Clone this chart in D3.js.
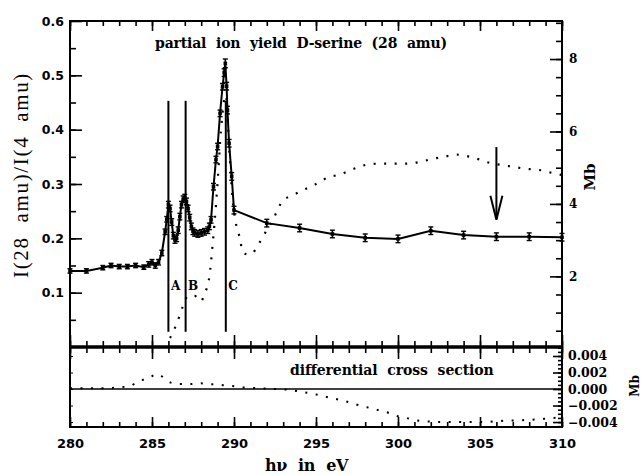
<!DOCTYPE html>
<html>
<head>
<meta charset="utf-8">
<script src="https://cdn.jsdelivr.net/npm/d3@7"></script>
<style>
html,body{margin:0;padding:0;background:#fff;}
svg{display:block;}
</style>
</head>
<body>
<svg id="chart" width="642" height="475"></svg>
<script>
// ---------- data ----------
const ionEnergy = [280.0,281.0,282.0,282.5,283.0,283.5,284.0,284.5,284.8,285.0,285.2,285.4,285.6,285.8,285.9,286.0,286.1,286.2,286.3,286.4,286.5,286.6,286.7,286.8,286.9,287.0,287.1,287.2,287.3,287.4,287.5,287.6,287.8,288.0,288.2,288.4,288.5,288.6,288.75,288.9,289.0,289.15,289.3,289.4,289.47,289.55,289.6,289.7,289.86,290.0,292.0,294.0,296.0,298.0,300.0,302.0,304.0,306.0,308.0,310.0];
const ionYield = [0.140,0.140,0.146,0.150,0.148,0.148,0.150,0.147,0.152,0.156,0.150,0.156,0.173,0.212,0.235,0.262,0.255,0.230,0.205,0.197,0.200,0.215,0.240,0.262,0.272,0.275,0.268,0.255,0.238,0.222,0.213,0.210,0.208,0.210,0.212,0.215,0.222,0.234,0.295,0.345,0.369,0.430,0.479,0.505,0.522,0.480,0.436,0.375,0.314,0.252,0.228,0.219,0.208,0.201,0.199,0.214,0.206,0.203,0.203,0.202];
const ionError = [0.004,0.004,0.004,0.004,0.004,0.004,0.004,0.004,0.005,0.005,0.005,0.005,0.005,0.005,0.005,0.006,0.006,0.006,0.006,0.006,0.006,0.006,0.006,0.006,0.006,0.006,0.006,0.006,0.006,0.006,0.006,0.006,0.006,0.006,0.006,0.006,0.006,0.006,0.006,0.006,0.006,0.006,0.006,0.007,0.008,0.007,0.007,0.007,0.007,0.007,0.007,0.007,0.007,0.007,0.007,0.007,0.007,0.007,0.007,0.007];

const theoryEnergy = [286.1,286.3,286.5,286.7,286.9,287.2,287.6,288.0,288.2,288.4,288.5,288.6,288.7,288.8,289.0,289.2,289.5,289.7,289.9,290.1,290.4,290.5,290.9,291.3,291.7,292.3,293.0,293.6,294.1,294.7,295.2,295.8,296.4,296.9,297.5,298.05,298.7,299.3,299.9,300.5,301.1,301.7,302.3,303.0,303.6,304.2,304.8,305.3,306.0,306.5,307.0,307.6,308.25,308.86,309.5,310.0];
const theoryMb = [0.3,0.47,0.7,0.93,1.2,1.46,1.46,1.31,1.53,1.76,2.0,2.4,2.9,3.4,4.6,6.0,7.0,5.6,4.2,3.5,2.96,2.68,2.6,2.73,3.05,3.5,4.1,4.24,4.36,4.48,4.6,4.75,4.8,4.89,5.0,5.08,5.11,5.11,5.11,5.11,5.14,5.2,5.26,5.32,5.36,5.32,5.25,5.17,5.1,5.06,5.03,4.98,4.95,4.92,4.84,4.8];

const diffEnergy = [280.0,281.0,282.0,283.0,283.7,284.2,284.7,285.3,285.7,286.1,286.7,287.3,287.9,288.5,289.1,289.75,290.5,291.5,292.5,293.4,294.0,294.6,295.1,295.75,296.4,297.0,297.5,298.1,298.7,299.3,299.8,300.5,301.1,301.7,302.3,303.5,304.8,305.4,306.0,307.2,308.35,308.96,309.5,310.0];
const diffValue = [0.0001,0.0001,0.0001,0.0002,0.0004,0.0010,0.0012,0.0018,0.0014,0.0008,0.0006,0.0006,0.0007,0.0006,0.0005,0.0004,0.0002,0.0001,0.0,-0.0001,-0.0003,-0.0005,-0.0007,-0.0010,-0.0013,-0.0016,-0.0019,-0.0022,-0.0025,-0.0028,-0.0032,-0.0035,-0.0038,-0.0039,-0.0040,-0.0040,-0.0040,-0.0040,-0.0039,-0.0038,-0.0037,-0.0036,-0.0035,-0.0034];

const resonanceEnergy = [286.0, 287.05, 289.5];
const resonanceLabel = ["A", "B", "C"];
const resonanceSpan = [0.028, 0.453];
const arrowEnergy = 306;
const arrowSpan = [0.368, 0.234];

const xMajorTicks = [280,285,290,295,300,305,310];
const leftTicks = [0.1,0.2,0.3,0.4,0.5,0.6];
const rightTicks = [2,4,6,8];
const diffTicks = [0.004,0.002,0.000,-0.002,-0.004];
const diffTickLabels = ["0.004","0.002","0.000","\u22120.002","\u22120.004"];

const titleText = "partial ion yield D-serine (28 amu)";
const diffTitle = "differential cross section";
const xTitle = "h\u03bd in eV";
const yLeftTitle = "I(28 amu)/I(4 amu)";
const yRightTitle = "Mb";

// ---------- layout ----------
const L = 70, R = 562, T = 21, MID = 347, B = 427;
const svg = d3.select("#chart");

const x = d3.scaleLinear().domain([280, 310]).range([L, R]);
const yL = d3.scaleLinear().domain([0, 0.6]).range([MID, T]);
const yR = d3.scaleLinear().domain([0.05, 9.05]).range([MID, T]);
const yD = d3.scaleLinear().domain([-0.0046, 0.00509]).range([B, MID]);

const minorX = d3.range(280, 310.01, 1);
const minorL = d3.range(0.05, 0.6, 0.05);
const minorR = d3.range(0.5, 9.01, 0.5);
const minorD = d3.range(-0.0045, 0.00501, 0.0005);

function styleAxis(g) {
  g.select(".domain").remove();
  g.selectAll(".tick line").attr("stroke", "#000").attr("stroke-width", 1.6);
}
// fixed word gap, then letter spacing fills the remaining width
function fitText(sel, target, wordGap) {
  const txt = sel.text();
  sel.attr("word-spacing", wordGap);
  const len = sel.node().getComputedTextLength();
  const n = txt.length;
  sel.attr("letter-spacing", (target - len) / n);
}

// top axis of upper panel (ticks down)
svg.append("g").attr("transform", `translate(0,${T})`)
  .call(d3.axisBottom(x).tickValues(minorX).tickSize(5).tickFormat("")).call(styleAxis);
svg.append("g").attr("transform", `translate(0,${T})`)
  .call(d3.axisBottom(x).tickValues(xMajorTicks).tickSize(10).tickFormat("")).call(styleAxis);
// middle axis: ticks up and down
svg.append("g").attr("transform", `translate(0,${MID})`)
  .call(d3.axisTop(x).tickValues(minorX).tickSize(6).tickFormat("")).call(styleAxis);
svg.append("g").attr("transform", `translate(0,${MID})`)
  .call(d3.axisTop(x).tickValues(xMajorTicks).tickSize(12).tickFormat("")).call(styleAxis);
svg.append("g").attr("transform", `translate(0,${MID})`)
  .call(d3.axisBottom(x).tickValues(minorX).tickSize(6).tickFormat("")).call(styleAxis);
svg.append("g").attr("transform", `translate(0,${MID})`)
  .call(d3.axisBottom(x).tickValues(xMajorTicks).tickSize(12).tickFormat("")).call(styleAxis);
// bottom axis: ticks up, labels below
svg.append("g").attr("transform", `translate(0,${B})`)
  .call(d3.axisTop(x).tickValues(minorX).tickSize(5).tickFormat("")).call(styleAxis);
svg.append("g").attr("transform", `translate(0,${B})`)
  .call(d3.axisTop(x).tickValues(xMajorTicks).tickSize(10).tickFormat("")).call(styleAxis);
const xLab = svg.append("g").attr("transform", `translate(0,${B})`)
  .call(d3.axisBottom(x).tickValues(xMajorTicks).tickSize(0).tickPadding(12).tickFormat(d3.format("d")));
xLab.select(".domain").remove();
xLab.selectAll("text").attr("font-family", "DejaVu Sans").attr("font-weight", "bold")
  .attr("font-size", 13).attr("fill", "#000");

// left axis upper panel
svg.append("g").attr("transform", `translate(${L},0)`)
  .call(d3.axisRight(yL).tickValues(minorL).tickSize(6).tickFormat("")).call(styleAxis);
svg.append("g").attr("transform", `translate(${L},0)`)
  .call(d3.axisRight(yL).tickValues(leftTicks).tickSize(12).tickFormat("")).call(styleAxis);
const lLab = svg.append("g").attr("transform", `translate(${L},0)`)
  .call(d3.axisLeft(yL).tickValues(leftTicks).tickSize(0).tickPadding(6).tickFormat(d3.format(".1f")));
lLab.select(".domain").remove();
lLab.selectAll("text").attr("font-family", "DejaVu Sans").attr("font-weight", "bold")
  .attr("font-size", 12.5).attr("fill", "#000");

// right axis upper panel
svg.append("g").attr("transform", `translate(${R},0)`)
  .call(d3.axisLeft(yR).tickValues(minorR).tickSize(6).tickFormat("")).call(styleAxis);
svg.append("g").attr("transform", `translate(${R},0)`)
  .call(d3.axisLeft(yR).tickValues(rightTicks).tickSize(12).tickFormat("")).call(styleAxis);
const rLab = svg.append("g").attr("transform", `translate(${R},0)`)
  .call(d3.axisRight(yR).tickValues(rightTicks).tickSize(0).tickPadding(7).tickFormat(d3.format("d")));
rLab.select(".domain").remove();
rLab.selectAll("text").attr("font-family", "DejaVu Serif").attr("font-weight", "bold")
  .attr("font-size", 12).attr("fill", "#000");

// lower panel axes
svg.append("g").attr("transform", `translate(${R},0)`)
  .call(d3.axisLeft(yD).tickValues(minorD).tickSize(4).tickFormat("")).call(styleAxis);
svg.append("g").attr("transform", `translate(${R},0)`)
  .call(d3.axisLeft(yD).tickValues(diffTicks).tickSize(9).tickFormat("")).call(styleAxis);
svg.append("g").attr("transform", `translate(${L},0)`)
  .call(d3.axisRight(yD).tickValues(diffTicks).tickSize(3).tickFormat("")).call(g => {
    g.select(".domain").remove();
    g.selectAll(".tick line").attr("stroke", "#000").attr("stroke-width", 1);
  });
const dLab = svg.append("g").attr("transform", `translate(${R},0)`)
  .call(d3.axisRight(yD).tickValues(diffTicks).tickSize(0).tickPadding(6)
    .tickFormat((d, i) => diffTickLabels[i]));
dLab.select(".domain").remove();
dLab.selectAll("text").attr("font-family", "DejaVu Serif").attr("font-weight", "bold")
  .attr("font-size", 12.5).attr("fill", "#000");

// frame
const frame = svg.append("g").attr("stroke", "#000").attr("fill", "none");
frame.append("line").attr("x1", L).attr("x2", R).attr("y1", T).attr("y2", T).attr("stroke-width", 2);
frame.append("line").attr("x1", L).attr("x2", L).attr("y1", T - 1).attr("y2", B + 1).attr("stroke-width", 2);
frame.append("line").attr("x1", R).attr("x2", R).attr("y1", T - 1).attr("y2", B + 1).attr("stroke-width", 2);
frame.append("line").attr("x1", L).attr("x2", R).attr("y1", B).attr("y2", B).attr("stroke-width", 2);
frame.append("line").attr("x1", L).attr("x2", R).attr("y1", MID).attr("y2", MID).attr("stroke-width", 3.5);
frame.append("line").attr("x1", L).attr("x2", R).attr("y1", yD(0)).attr("y2", yD(0)).attr("stroke-width", 1.4);

// theory dotted curve (right axis, Mb)
const theoryData = theoryEnergy.map((e, i) => [e, theoryMb[i]]);
svg.append("path").datum(theoryData)
  .attr("d", d3.line().x(d => x(d[0])).y(d => yR(d[1])).curve(d3.curveMonotoneX))
  .attr("fill", "none").attr("stroke", "#000").attr("stroke-width", 2.2)
  .attr("stroke-dasharray", "2,8.5");

// differential dotted curve
const diffData = diffEnergy.map((e, i) => [e, diffValue[i]]);
svg.append("path").datum(diffData)
  .attr("d", d3.line().x(d => x(d[0])).y(d => yD(d[1])).curve(d3.curveMonotoneX))
  .attr("fill", "none").attr("stroke", "#000").attr("stroke-width", 2)
  .attr("stroke-dasharray", "2,8.5");

// resonance lines
resonanceEnergy.forEach((e, i) => {
  svg.append("line").attr("x1", x(e)).attr("x2", x(e))
    .attr("y1", yL(resonanceSpan[0])).attr("y2", yL(resonanceSpan[1]))
    .attr("stroke", "#000").attr("stroke-width", 2);
  svg.append("text").attr("x", x(e) + 2.5).attr("y", 290)
    .attr("font-family", "DejaVu Serif").attr("font-weight", "bold").attr("font-size", 12)
    .text(resonanceLabel[i]);
});

// ion yield solid line
const ionData = ionEnergy.map((e, i) => ({ e, v: ionYield[i], err: ionError[i] }));
svg.append("path").datum(ionData)
  .attr("d", d3.line().x(d => x(d.e)).y(d => yL(d.v)))
  .attr("fill", "none").attr("stroke", "#000").attr("stroke-width", 2);
const eb = svg.append("g").attr("stroke", "#000");
ionData.forEach(d => {
  const cx = x(d.e);
  eb.append("line").attr("x1", cx).attr("x2", cx).attr("y1", yL(d.v - d.err)).attr("y2", yL(d.v + d.err)).attr("stroke-width", 1.6);
  eb.append("line").attr("x1", cx - 2.5).attr("x2", cx + 2.5).attr("y1", yL(d.v - d.err)).attr("y2", yL(d.v - d.err)).attr("stroke-width", 1.4);
  eb.append("line").attr("x1", cx - 2.5).attr("x2", cx + 2.5).attr("y1", yL(d.v + d.err)).attr("y2", yL(d.v + d.err)).attr("stroke-width", 1.4);
  eb.append("rect").attr("x", cx - 1.8).attr("y", yL(d.v) - 1.8).attr("width", 3.6).attr("height", 3.6).attr("fill", "#000").attr("stroke", "none");
});

// arrow
const ax = x(arrowEnergy), ay1 = yL(arrowSpan[0]), ay2 = yL(arrowSpan[1]);
svg.append("line").attr("x1", ax).attr("x2", ax).attr("y1", ay1).attr("y2", ay2 - 1)
  .attr("stroke", "#000").attr("stroke-width", 2);
svg.append("path")
  .attr("d", `M${ax - 6},${ay2 - 24} L${ax},${ay2} L${ax + 6},${ay2 - 24}`)
  .attr("fill", "none").attr("stroke", "#000").attr("stroke-width", 2);

// texts
const t1 = svg.append("text").attr("x", 155).attr("y", 48)
  .attr("font-family", "DejaVu Serif").attr("font-weight", "bold").attr("font-size", 14)
  .text(titleText);
fitText(t1, 292, 5);
const t2 = svg.append("text").attr("x", 290).attr("y", 375)
  .attr("font-family", "DejaVu Serif").attr("font-weight", "bold").attr("font-size", 14)
  .text(diffTitle);
fitText(t2, 203, 5);
const t3 = svg.append("text").attr("x", 265).attr("y", 471)
  .attr("font-family", "DejaVu Serif").attr("font-weight", "bold").attr("font-size", 16)
  .text(xTitle);
fitText(t3, 83, 6);
const t4 = svg.append("text").attr("transform", "translate(28,278) rotate(-90)")
  .attr("font-family", "Liberation Serif").attr("font-size", 21)
  .text(yLeftTitle);
fitText(t4, 206, 7);
svg.append("text").attr("transform", "translate(595,177) rotate(-90)").attr("text-anchor", "middle")
  .attr("font-family", "DejaVu Serif").attr("font-weight", "bold").attr("font-size", 15)
  .text(yRightTitle);
svg.append("text").attr("transform", "translate(638.5,386) rotate(-90)").attr("text-anchor", "middle")
  .attr("font-family", "DejaVu Serif").attr("font-weight", "bold").attr("font-size", 12)
  .text(yRightTitle);
</script>
</body>
</html>
